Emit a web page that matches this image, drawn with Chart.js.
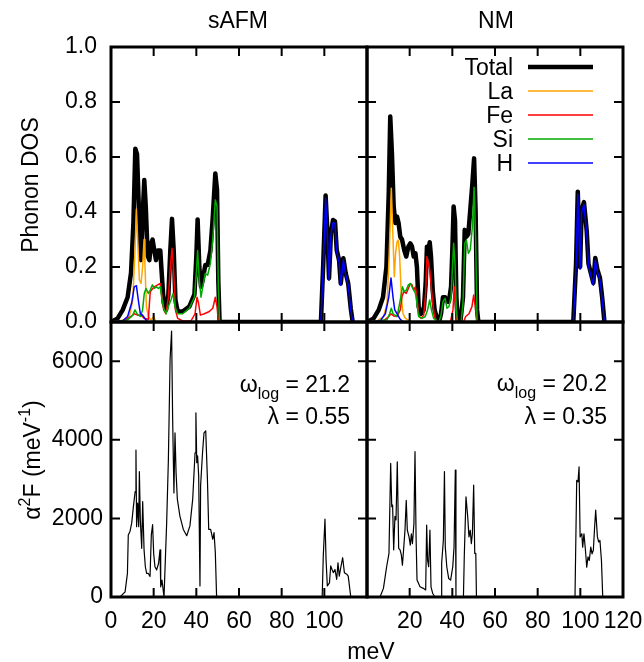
<!DOCTYPE html>
<html>
<head>
<meta charset="utf-8">
<script src="https://cdn.jsdelivr.net/npm/chart.js@4.4.1/dist/chart.umd.min.js"></script>
<style>
  html, body { margin: 0; padding: 0; background: #fff; }
  #wrap { position: relative; width: 644px; height: 662px; }
  #wrap canvas { position: absolute; left: 0; top: 0; }
</style>
</head>
<body>
<div id="wrap">
  <canvas id="dosAfm" width="644" height="662"></canvas>
  <canvas id="dosNm" width="644" height="662"></canvas>
  <canvas id="a2fAfm" width="644" height="662"></canvas>
  <canvas id="a2fNm" width="644" height="662"></canvas>
</div>
<script>
// ---- tick values ----
const energyTicks = [0, 20, 40, 60, 80, 100, 120];
const dosTicks = [0, 0.2, 0.4, 0.6, 0.8, 1.0];
const a2fTicks = [0, 2000, 4000, 6000];

// ---- sAFM phonon DOS (energy in meV, states) ----
const afmTotE = [0, 3.1, 5.5, 7.8, 9.4, 10.5, 11.4, 12.2, 13.3, 14.1, 14.8, 15.6, 16.3, 17.2, 18.0, 18.75, 19.5, 20.3, 21.1, 21.9, 23.1, 23.75, 24.7, 25.8, 26.9, 27.8, 28.6, 29.4, 30.2, 31.25, 33.6, 36.7, 39.1, 40, 40.6, 41.4, 42.2, 43.0, 44.2, 45.3, 46.6, 47.7, 48.9, 49.7, 50.3, 50.9, 98.4, 99.5, 100.6, 101.4, 102.2, 103.1, 104.1, 105, 105.8, 106.9, 107.7, 108.9, 110, 111.2, 112.4, 113.3];
const afmTotV = [0, 0.013, 0.044, 0.09, 0.18, 0.36, 0.63, 0.61, 0.36, 0.225, 0.38, 0.516, 0.42, 0.24, 0.225, 0.286, 0.30, 0.26, 0.225, 0.26, 0.26, 0.18, 0.07, 0.044, 0.10, 0.26, 0.375, 0.26, 0.08, 0.038, 0.038, 0.056, 0.10, 0.24, 0.373, 0.2, 0.128, 0.153, 0.207, 0.207, 0.26, 0.38, 0.54, 0.48, 0.15, 0, 0, 0.213, 0.46, 0.335, 0.159, 0.323, 0.371, 0.366, 0.262, 0.225, 0.14, 0.232, 0.178, 0.14, 0.048, 0];
const afmLaE = [0, 6.25, 8.6, 10.2, 11.25, 11.9, 12.5, 13.3, 14.1, 14.8, 15.5, 15.9, 16.6, 17.5, 18.75, 20, 21.1, 113.3];
const afmLaV = [0, 0.007, 0.02, 0.08, 0.26, 0.41, 0.30, 0.153, 0.14, 0.2, 0.30, 0.21, 0.056, 0.02, 0.007, 0.02, 0, 0];
const afmFeE = [0, 6.25, 9.4, 10.9, 12.5, 14.1, 15.6, 17.5, 18.4, 19.4, 20.3, 21.9, 23.1, 23.75, 24.7, 25.8, 26.9, 27.8, 28.6, 29.4, 30.2, 31.25, 33.6, 37.5, 39.4, 40.3, 41, 41.9, 43.75, 46.1, 47.7, 48.9, 49.7, 50.3, 50.9, 113.3];
const afmFeV = [0, 0.004, 0.02, 0.03, 0.025, 0.025, 0.013, 0.01, 0.11, 0.12, 0.128, 0.135, 0.14, 0.10, 0.044, 0.03, 0.09, 0.2, 0.268, 0.18, 0.044, 0.013, 0.004, 0.004, 0.03, 0.09, 0.07, 0.025, 0.03, 0.038, 0.05, 0.09, 0.056, 0.006, 0, 0];
const afmSiE = [0, 7.8, 10.2, 11.25, 12.2, 13.75, 14.8, 15.6, 16.4, 17.5, 18.4, 19.4, 20.3, 21.25, 22.2, 23.1, 23.75, 24.7, 25.8, 26.9, 28.1, 29.1, 30, 31.25, 33.6, 36.7, 39.1, 40, 40.6, 41.4, 42.2, 43, 44.2, 45.3, 46.6, 47.7, 48.9, 49.7, 50.3, 50.9, 113.3];
const afmSiV = [0, 0.007, 0.025, 0.044, 0.03, 0.02, 0.044, 0.104, 0.122, 0.104, 0.116, 0.135, 0.122, 0.128, 0.122, 0.128, 0.09, 0.05, 0.03, 0.056, 0.08, 0.104, 0.056, 0.03, 0.03, 0.05, 0.09, 0.177, 0.26, 0.153, 0.09, 0.128, 0.177, 0.17, 0.213, 0.30, 0.444, 0.42, 0.128, 0, 0];
const afmHE = [0, 5.5, 7.8, 9.7, 10.9, 11.9, 12.8, 13.75, 14.8, 15.9, 17.2, 98.4, 99.5, 100.6, 101.4, 102.2, 103.1, 104.1, 105, 105.8, 106.9, 107.7, 108.9, 110, 111.2, 112.4, 113.3];
const afmHV = [0, 0.004, 0.02, 0.07, 0.128, 0.132, 0.08, 0.03, 0.025, 0.013, 0, 0, 0.205, 0.45, 0.325, 0.152, 0.315, 0.362, 0.357, 0.255, 0.218, 0.134, 0.225, 0.171, 0.134, 0.044, 0];

// ---- NM phonon DOS ----
const nmTotE = [0, 3.1, 5.5, 7.5, 9.1, 10.2, 10.9, 11.7, 12.5, 13.3, 14.1, 14.8, 15.6, 16.4, 17.5, 18.4, 19.4, 20.3, 21.1, 21.9, 22.7, 23.4, 24.2, 25.3, 26.6, 27.5, 28.1, 28.75, 29.4, 30, 30.8, 31.7, 32.8, 33.75, 34.7, 35.6, 36.6, 37.5, 38.4, 39.4, 40, 40.6, 41.25, 41.9, 42.5, 43.75, 45, 45.8, 46.6, 47.5, 48.4, 49.4, 50.2, 50.9, 51.6, 52.2, 96.7, 98.0, 98.8, 99.9, 100.6, 101.7, 103, 103.8, 104.9, 106.1, 107, 108, 109.2, 110.2, 111.3];
const nmTotV = [0, 0.013, 0.044, 0.09, 0.2, 0.47, 0.747, 0.61, 0.42, 0.36, 0.383, 0.36, 0.31, 0.30, 0.26, 0.238, 0.274, 0.286, 0.274, 0.238, 0.25, 0.2, 0.056, 0.03, 0.044, 0.14, 0.274, 0.26, 0.29, 0.238, 0.116, 0.044, 0.013, 0, 0.03, 0.09, 0.09, 0.074, 0.074, 0.128, 0.26, 0.42, 0.37, 0.09, 0, 0, 0.09, 0.335, 0.31, 0.32, 0.407, 0.504, 0.595, 0.407, 0.044, 0, 0, 0.213, 0.474, 0.2, 0.407, 0.436, 0.33, 0.213, 0.178, 0.142, 0.233, 0.19, 0.16, 0.092, 0];
const nmLaE = [0, 4.7, 7.8, 9.4, 10.3, 10.9, 11.4, 12, 12.8, 13.4, 14.1, 14.7, 15.3, 16.1, 16.9, 18, 19.5, 21.1, 111.3];
const nmLaV = [0, 0.004, 0.02, 0.068, 0.225, 0.36, 0.486, 0.347, 0.165, 0.25, 0.292, 0.298, 0.238, 0.092, 0.03, 0.013, 0.007, 0, 0];
const nmFeE = [0, 7.8, 10.2, 11.25, 12.5, 14.1, 15.6, 16.4, 17.2, 18.4, 19.4, 20.3, 21.1, 21.9, 22.7, 23.4, 24.2, 25.3, 26.6, 27.5, 28.1, 28.75, 29.4, 30, 30.8, 31.7, 32.8, 39.1, 40.3, 40.9, 41.6, 42.2, 45.3, 46.25, 47.8, 49.2, 50, 50.8, 51.6, 111.3];
const nmFeV = [0, 0.005, 0.02, 0.03, 0.022, 0.02, 0.044, 0.092, 0.11, 0.104, 0.122, 0.14, 0.135, 0.116, 0.128, 0.092, 0.025, 0.013, 0.025, 0.104, 0.238, 0.213, 0.19, 0.14, 0.068, 0.02, 0, 0, 0.044, 0.128, 0.044, 0, 0, 0.02, 0.03, 0.056, 0.098, 0.056, 0, 0];
const nmSiE = [0, 9.4, 10.6, 11.4, 12.2, 14.1, 15.6, 16.6, 17.5, 18.4, 19.4, 20.3, 21.1, 21.9, 22.7, 23.4, 24.2, 25.8, 27.3, 28.4, 29.4, 30.2, 31.25, 33.75, 34.7, 35.6, 36.6, 37.5, 38.4, 39.4, 40, 40.6, 41.25, 41.9, 42.5, 44.1, 45, 45.8, 46.6, 47.5, 48.4, 49.4, 50.2, 50.9, 51.6, 52.2, 111.3];
const nmSiV = [0, 0.008, 0.03, 0.05, 0.03, 0.02, 0.08, 0.128, 0.11, 0.116, 0.135, 0.14, 0.128, 0.116, 0.104, 0.068, 0.02, 0.013, 0.02, 0.044, 0.08, 0.044, 0.013, 0, 0.025, 0.074, 0.086, 0.05, 0.056, 0.092, 0.19, 0.286, 0.213, 0.044, 0, 0, 0.068, 0.286, 0.298, 0.25, 0.262, 0.347, 0.49, 0.31, 0.007, 0, 0];
const nmHE = [0, 6.25, 8.6, 10.2, 11.25, 12.2, 13, 14.1, 15.3, 16.9, 96.7, 98.0, 98.8, 99.9, 100.6, 101.7, 103, 103.8, 104.9, 106.1, 107, 108, 109.2, 110.2, 111.3];
const nmHV = [0, 0.004, 0.03, 0.09, 0.16, 0.09, 0.044, 0.03, 0.013, 0, 0, 0.205, 0.465, 0.192, 0.398, 0.427, 0.322, 0.205, 0.17, 0.134, 0.225, 0.182, 0.152, 0.084, 0];

// ---- Eliashberg function a2F ----
const afmA2fE = [0, 4.2, 6.6, 7.7, 8.1, 8.9, 9.7, 10.5, 11.3, 11.7, 12.0, 12.5, 13.0, 13.3, 13.75, 14.4, 14.85, 15.5, 16.1, 16.7, 17.5, 18.3, 18.9, 19.5, 20, 20.6, 21.4, 22.3, 22.97, 23.3, 23.9, 24.85, 26.1, 26.9, 27.7, 28.4, 28.9, 29.5, 30, 30.5, 31.1, 32.3, 33.9, 35.5, 37.0, 38.3, 39.4, 39.8, 40.2, 40.6, 41.1, 41.7, 42, 42.9, 43.6, 44.4, 45.2, 45.8, 46.7, 47.7, 48.3, 48.9, 49.5, 99, 99.5, 100.3, 100.8, 101.4, 102.4, 103, 103.6, 104.2, 105, 105.8, 106.4, 107, 107.7, 108.6, 109.4, 110.5, 111.2, 112.4];
const afmA2fV = [0, 0, 130, 600, 1580, 1670, 1880, 2300, 2680, 3740, 1790, 2390, 1790, 3190, 1960, 1240, 2430, 1200, 770, 600, 600, 520, 1580, 1840, 1110, 770, 690, 860, 1200, 260, 430, 0, 1900, 3500, 6050, 6770, 4520, 2650, 4180, 3160, 2490, 2060, 1720, 1560, 1810, 2490, 3670, 4690, 3420, 3590, 3080, 280, 2830, 3670, 4180, 4230, 3000, 1720, 1720, 1470, 1640, 1130, 0, 0, 1040, 1980, 960, 280, 360, 790, 700, 620, 700, 450, 870, 530, 750, 1000, 620, 580, 530, 0];
const nmA2fE = [0, 6.1, 7.7, 9.2, 10.3, 11.1, 11.6, 12.0, 12.5, 13.1, 13.6, 14.2, 14.85, 15.5, 16.1, 16.6, 17.2, 17.8, 18.4, 18.9, 19.7, 20.3, 20.8, 21.3, 22.0, 22.5, 23.0, 23.45, 24.85, 26.4, 27.5, 27.97, 28.4, 28.9, 29.5, 30, 30.8, 31.9, 34.7, 35.0, 35.8, 36.3, 36.7, 37.4, 38.3, 39.2, 40.2, 40.8, 41.4, 41.7, 45.2, 45.6, 46.4, 47.2, 47.8, 48.4, 48.9, 49.4, 50.0, 50.5, 51.0, 51.3, 97.5, 98.3, 98.9, 99.4, 99.9, 100.7, 101.1, 101.7, 102.4, 103, 103.6, 104.2, 104.9, 105.5, 106.1, 106.7, 107.2, 108, 108.6, 109.2, 109.9, 110.5];
const nmA2fV = [0, 0, 220, 770, 1110, 3400, 2300, 2340, 1200, 2050, 1960, 3440, 1240, 1200, 1070, 810, 1240, 1700, 2460, 1700, 1530, 1320, 1610, 1360, 1870, 3700, 1530, 430, 260, 220, 180, 1830, 940, 770, 1700, 260, 90, 0, 0, 860, 1450, 3190, 1270, 770, 470, 430, 770, 1270, 3230, 0, 0, 1030, 2550, 2050, 1530, 1700, 1360, 1610, 2850, 1110, 1110, 0, 0, 2970, 2930, 3310, 1530, 1610, 1270, 1610, 1190, 760, 1020, 930, 1270, 1100, 1190, 1780, 2210, 1530, 1400, 1440, 930, 0];

const speciesLabels = ['Total', 'La', 'Fe', 'Si', 'H'];
const speciesColors = ['#000000', '#ffa500', '#ff0000', '#00aa00', '#0000ff'];

const FONT = "'Liberation Sans', Arial, Helvetica, sans-serif";
Chart.defaults.font.family = FONT;
Chart.defaults.font.size = 23;
Chart.defaults.color = '#000';

const pts = (e, v) => e.map((x, i) => ({ x: x, y: v[i] }));

// frame + inward ticks on all four sides (gnuplot look)
const frame = {
    id: 'frame',
    afterDatasetsDraw(chart) {
        const ctx = chart.ctx, a = chart.chartArea, sx = chart.scales.x, sy = chart.scales.y;
        ctx.save();
        ctx.strokeStyle = '#000';
        ctx.lineWidth = 2;
        ctx.beginPath();
        sx.ticks.forEach(t => {
            const p = sx.getPixelForValue(t.value);
            ctx.moveTo(p, a.bottom); ctx.lineTo(p, a.bottom - 9);
            ctx.moveTo(p, a.top); ctx.lineTo(p, a.top + 9);
        });
        sy.ticks.forEach(t => {
            const p = sy.getPixelForValue(t.value);
            ctx.moveTo(a.left, p); ctx.lineTo(a.left + 9, p);
            ctx.moveTo(a.right, p); ctx.lineTo(a.right - 9, p);
        });
        ctx.stroke();
        ctx.lineWidth = 3;
        ctx.strokeRect(a.left, a.top, a.right - a.left, a.bottom - a.top);
        ctx.restore();
    }
};

// text with super/subscripts: parts = [[text, 0|1|-1], ...]
function richText(ctx, parts, x, y, align) {
    const fontFor = k => (k ? '16px ' : '23px ') + FONT;
    let w = 0;
    parts.forEach(([t, k]) => { ctx.font = fontFor(k); w += ctx.measureText(t).width; });
    let cx = align === 'right' ? x - w : align === 'center' ? x - w / 2 : x;
    ctx.textAlign = 'left';
    ctx.textBaseline = 'alphabetic';
    ctx.fillStyle = '#000';
    parts.forEach(([t, k]) => {
        ctx.font = fontFor(k);
        ctx.fillText(t, cx, y + (k === 1 ? -10 : k === -1 ? 7 : 0));
        cx += ctx.measureText(t).width;
    });
}

function rotated(ctx, parts, x, y) {
    ctx.save();
    ctx.translate(x, y);
    ctx.rotate(-Math.PI / 2);
    richText(ctx, parts, 0, 0, 'center');
    ctx.restore();
}

const notes = fn => ({
    id: 'notes',
    afterDraw(chart) {
        const ctx = chart.ctx;
        ctx.save();
        fn(ctx, chart);
        ctx.restore();
    }
});

// box = [left, top, right, bottom] of the plot area in page pixels
function panel(id, box, yMax, yTicks, yFmt, yPad, xSkip, showX, sets, extra) {
    return new Chart(document.getElementById(id), {
        type: 'line',
        data: { datasets: sets },
        options: {
            responsive: false,
            animation: false,
            layout: { padding: { left: 0, top: box[1], right: 644 - box[2], bottom: 0 } },
            plugins: { legend: { display: false }, tooltip: { enabled: false } },
            elements: { point: { radius: 0 }, line: { tension: 0, borderJoinStyle: 'round' } },
            scales: {
                x: {
                    type: 'linear', min: 0, max: 120,
                    afterBuildTicks: s => { s.ticks = energyTicks.map(v => ({ value: v })); },
                    afterFit: s => { s.height = 662 - box[3]; s.paddingLeft = 0; s.paddingRight = 0; },
                    grid: { display: false, drawTicks: false },
                    border: { display: false },
                    ticks: {
                        padding: 11, display: showX,
                        autoSkip: false, maxRotation: 0, minRotation: 0,
                        callback: v => (v === xSkip ? '' : String(v))
                    }
                },
                y: {
                    type: 'linear', min: 0, max: yMax,
                    afterBuildTicks: s => { s.ticks = yTicks.map(v => ({ value: v })); },
                    afterFit: s => { s.width = box[0]; s.paddingTop = 0; s.paddingBottom = 0; },
                    grid: { display: false, drawTicks: false },
                    border: { display: false },
                    ticks: { padding: yPad || 0, display: yPad !== null, autoSkip: false, callback: yFmt }
                }
            }
        },
        plugins: [frame, notes(extra)]
    });
}

function dosSets(tot, la, fe, si, h) {
    // partials first so they are painted above the thick total
    const series = [tot, la, fe, si, h];
    const out = [];
    for (let i = series.length - 1; i >= 0; i--) {
        out.push({
            label: speciesLabels[i],
            data: series[i],
            borderColor: speciesColors[i],
            borderWidth: i === 0 ? 4.5 : 1.5
        });
    }
    return out;
}

const dosFmt = v => v.toFixed(1);
const a2fFmt = v => String(Math.round(v));

panel('dosAfm', [111, 47, 367, 322], 1.0, dosTicks, dosFmt, 14, null, false,
    dosSets(pts(afmTotE, afmTotV), pts(afmLaE, afmLaV), pts(afmFeE, afmFeV), pts(afmSiE, afmSiV), pts(afmHE, afmHV)),
    ctx => {
        richText(ctx, [['sAFM', 0]], 238, 28, 'center');
        rotated(ctx, [['Phonon DOS', 0]], 38, 185);
    });

panel('dosNm', [367, 47, 623, 322], 1.0, dosTicks, dosFmt, null, null, false,
    dosSets(pts(nmTotE, nmTotV), pts(nmLaE, nmLaV), pts(nmFeE, nmFeV), pts(nmSiE, nmSiV), pts(nmHE, nmHV)),
    (ctx, chart) => {
        richText(ctx, [['NM', 0]], 496, 28, 'center');
        const rows = chart.data.datasets.slice().reverse();
        rows.forEach((d, i) => {
            const y = 67 + 24 * i;
            richText(ctx, [[d.label, 0]], 513, y + 8, 'right');
            ctx.strokeStyle = d.borderColor;
            ctx.lineWidth = d.borderWidth;
            ctx.beginPath();
            ctx.moveTo(528, y);
            ctx.lineTo(593, y);
            ctx.stroke();
        });
    });

panel('a2fAfm', [111, 322, 367, 597], 7000, a2fTicks, a2fFmt, 8, 120, true,
    [{ data: pts(afmA2fE, afmA2fV), borderColor: '#000', borderWidth: 1.2 }],
    ctx => {
        rotated(ctx, [['\u03b1', 0], ['2', 1], ['F (meV', 0], ['-1', 1], [')', 0]], 40, 460);
        richText(ctx, [['\u03c9', 0], ['log', -1], [' = 21.2', 0]], 350, 392, 'right');
        richText(ctx, [['\u03bb = 0.55', 0]], 350, 424, 'right');
        richText(ctx, [['meV', 0]], 371, 659, 'center');
    });

panel('a2fNm', [367, 322, 623, 597], 7000, a2fTicks, a2fFmt, null, 0, true,
    [{ data: pts(nmA2fE, nmA2fV), borderColor: '#000', borderWidth: 1.2 }],
    ctx => {
        richText(ctx, [['\u03c9', 0], ['log', -1], [' = 20.2', 0]], 607, 391, 'right');
        richText(ctx, [['\u03bb = 0.35', 0]], 607, 424, 'right');
    });
</script>
</body>
</html>
